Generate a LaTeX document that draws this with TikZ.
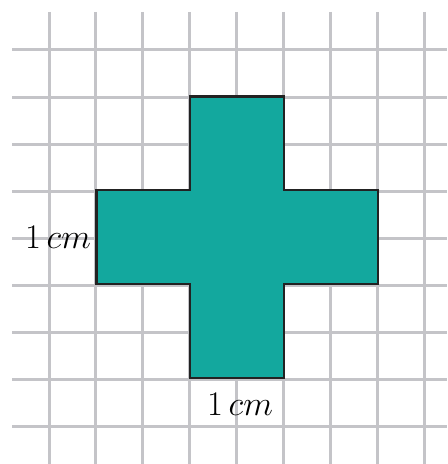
\documentclass[tikz,border=0pt]{standalone}
\usepackage{tikz}
\definecolor{gridgray}{HTML}{C4C4C8}
\definecolor{crossteal}{HTML}{13A89E}
\definecolor{edgedark}{HTML}{222222}
\tikzset{
  gridline/.style={draw=gridgray, line width=1.5pt},
  crossshape/.style={fill=crossteal, draw=edgedark, line width=1.1pt, line join=miter},
  lbl/.style={anchor=base, inner sep=0pt, font=\fontsize{16.5}{20}\selectfont}
}
\begin{document}
\begin{tikzpicture}[x=0.5pt, y=-0.5pt]
\useasboundingbox (0,0) rectangle (447,464);
\foreach \i in {0,...,8} {
  \draw[gridline] ({49+46.9*\i},12) -- ({49+46.9*\i},464);
  \draw[gridline] (12,{50+47.05*\i}) -- (447,{50+47.05*\i});
}
\path[crossshape] (190,96.5) -- (284,96.5) -- (284,190) -- (378,190) -- (378,284)
  -- (284,284) -- (284,378) -- (190,378) -- (190,284) -- (96.5,284) -- (96.5,190)
  -- (190,190) -- cycle;
\node[lbl] (leftlabel) at (58,249) {$1\,cm$};
\node[lbl] (bottomlabel) at (240,415) {$1\,cm$};
\end{tikzpicture}
\end{document}
